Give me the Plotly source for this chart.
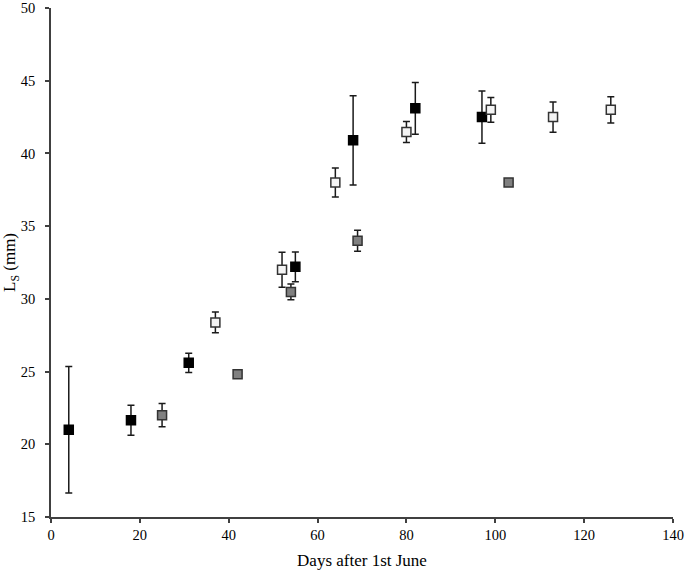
import plotly.graph_objects as go

# black squares
black_x = [4, 18, 31, 55, 68, 82, 97]
black_y = [21.0, 21.65, 25.6, 32.2, 40.9, 43.1, 42.5]
black_err = [4.35, 1.03, 0.66, 1.03, 3.07, 1.78, 1.8]

# open squares
open_x = [37, 52, 64, 80, 99, 113, 126]
open_y = [28.38, 32.0, 38.0, 41.48, 43.0, 42.5, 43.0]
open_err = [0.71, 1.2, 1.0, 0.72, 0.85, 1.04, 0.9]

# grey squares
grey_x = [25, 42, 54, 69, 103]
grey_y = [22.0, 24.82, 30.48, 34.0, 38.0]
grey_err = [0.8, 0.12, 0.54, 0.72, 0.0]

err_style = dict(type="data", visible=True, color="#1a1a1a", thickness=1.5, width=3.5)

fig = go.Figure()

series = [
    (black_x, black_y, black_err, "#000000", "#000000"),
    (open_x, open_y, open_err, "#f4f4f4", "#333333"),
    (grey_x, grey_y, grey_err, "#808080", "#333333"),
]
for xs, ys, es, fill, edge in series:
    fig.add_trace(go.Scatter(
        x=xs, y=ys, mode="markers",
        marker=dict(symbol="square", size=9, color=fill, line=dict(color=edge, width=1.5)),
        error_y=dict(array=es, **err_style),
        showlegend=False,
    ))

axis_font = dict(family="Liberation Serif", size=14.5, color="#000000")

fig.update_layout(
    width=685, height=570,
    margin=dict(l=51, r=12, t=8, b=53, autoexpand=False),
    plot_bgcolor="white", paper_bgcolor="white",
    font=axis_font,
)
fig.update_xaxes(
    range=[0, 140], dtick=20, showgrid=False, zeroline=False, automargin=False,
    showline=True, linecolor="#404040", linewidth=1.5,
    ticks="outside", ticklen=4, tickcolor="#404040", tickwidth=1.5,
    ticklabeloverflow="allow",
    title=dict(text="Days after 1st June", standoff=12),
)
fig.update_yaxes(
    range=[15, 50], dtick=5, showgrid=False, zeroline=False, automargin=False,
    showline=True, linecolor="#404040", linewidth=1.5,
    ticks="outside", ticklen=4, tickcolor="#404040", tickwidth=1.5,
    ticklabeloverflow="allow", ticklabelstandoff=7,
    title=dict(text="L<sub>S</sub> (mm)", standoff=4),
)

# drop the default 8px body margin so the figure sits flush in the window
fig.write_html("out.html", config={"displayModeBar": False},
               post_script="document.body.style.margin='0';")
